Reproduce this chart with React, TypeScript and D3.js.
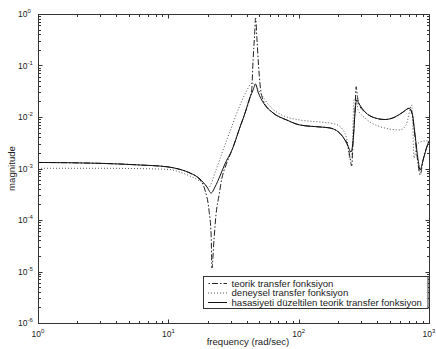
import React from "react";
import * as d3 from "d3";

// ---- Data (frequency in rad/sec, magnitude) ----
const freqTeorik = [1, 2.99, 6.07, 9.77, 12.3, 14.7, 17.5, 19.1, 20.5, 21.3, 21.6, 22.4, 23.2, 24.5, 25.8, 27.7, 30.8, 35.5, 38.8, 42.4, 43.6, 44.7, 45.9, 46.7, 47.9, 49.2, 50.6, 53.3, 63.6, 81.0, 102.5, 146, 174, 219, 239, 248, 255, 262, 271, 276, 283, 296, 323, 386, 460, 549, 633, 704, 742, 782, 825, 855, 901, 967, 1000];
const magTeorik = [1.31e-3, 1.26e-3, 1.17e-3, 1.08e-3, 9.6e-4, 8.1e-4, 6.0e-4, 3.83e-4, 1.56e-4, 5.12e-5, 1.17e-5, 4.09e-5, 1.25e-4, 3.05e-4, 6.54e-4, 1.17e-3, 2.29e-3, 6.4e-3, 1.2e-2, 2.45e-2, 3.34e-2, 0.128, 0.391, 0.836, 0.313, 0.102, 4.18e-2, 2.14e-2, 1.2e-2, 8.75e-3, 6.99e-3, 6.4e-3, 6.12e-3, 4.09e-3, 2.73e-3, 1.6e-3, 1.12e-3, 3.57e-3, 1.5e-2, 3.88e-2, 2.4e-2, 1.6e-2, 1.25e-2, 9.57e-3, 8.94e-3, 1.0e-2, 1.25e-2, 1.48e-2, 1.14e-2, 4.09e-3, 1.2e-3, 7.48e-4, 1.46e-3, 2.73e-3, 3.42e-3];

const freqDeneysel = [1, 2.99, 9.77, 13.4, 16.9, 19.1, 20.2, 23.2, 26.3, 29.8, 35.5, 39.5, 43.7, 46.3, 50.6, 60.3, 72.0, 102.5, 146, 190, 219, 235, 248, 257, 266, 276, 286, 323, 421, 600, 667, 738, 769, 810, 933, 1000];
const magDeneysel = [1.01e-3, 1.01e-3, 9.65e-4, 7.82e-4, 5.98e-4, 4.9e-4, 4.2e-4, 9.35e-4, 2.29e-3, 5.34e-3, 1.71e-2, 3.06e-2, 4.5e-2, 4.18e-2, 3.0e-2, 1.6e-2, 1.14e-2, 8.75e-3, 8.0e-3, 7.31e-3, 5.6e-3, 3.57e-3, 1.46e-3, 2.29e-3, 2.14e-2, 2.34e-2, 1.37e-2, 9.57e-3, 6.49e-3, 5.6e-3, 6.99e-3, 1.71e-2, 1.6e-3, 2.99e-3, 3.42e-3, 3.42e-3];

const freqDuzeltilen = [1, 2.99, 6.07, 9.77, 12.3, 14.7, 17.5, 19.8, 21.3, 22.8, 24.9, 27.2, 30.8, 35.5, 38.8, 42.4, 44.7, 46.7, 48.8, 54.0, 63.6, 81.0, 102.5, 146, 174, 219, 239, 252, 262, 271, 278, 291, 323, 386, 460, 549, 633, 704, 742, 782, 825, 855, 901, 967, 1000];
const magDuzeltilen = [1.31e-3, 1.26e-3, 1.17e-3, 1.08e-3, 9.6e-4, 8.18e-4, 6.25e-4, 4.37e-4, 3.34e-4, 4.37e-4, 7.15e-4, 1.23e-3, 2.29e-3, 6.4e-3, 1.2e-2, 2.45e-2, 3.34e-2, 4.37e-2, 3.06e-2, 1.83e-2, 1.2e-2, 8.75e-3, 6.99e-3, 6.4e-3, 6.12e-3, 4.09e-3, 2.73e-3, 2.09e-3, 3.57e-3, 1.25e-2, 2.14e-2, 1.79e-2, 1.25e-2, 9.57e-3, 8.94e-3, 1.0e-2, 1.25e-2, 1.48e-2, 1.2e-2, 4.47e-3, 1.46e-3, 9.35e-4, 1.46e-3, 2.73e-3, 3.42e-3];

const xTickExps = [0, 1, 2, 3];
const yTickExps = [0, -1, -2, -3, -4, -5, -6];
const legendLabels = [
  "teorik transfer fonksiyon",
  "deneysel transfer fonksiyon",
  "hasasiyeti düzeltilen teorik transfer fonksiyon",
];
const xLabel = "frequency (rad/sec)";
const yLabel = "magnitude";

const W = 436;
const H = 349;
const L = 38;
const R = 429;
const T = 14;
const B = 323;
const FONT = "'Liberation Sans', Arial, Helvetica, sans-serif";
const AX = "#333";

export default function App() {
  const x = d3.scaleLog().domain([1, 1000]).range([L, R]);
  const y = d3.scaleLog().domain([1e-6, 1]).range([B, T]);

  const mk = (fs: number[], ms: number[]) =>
    d3
      .line<number>()
      .x((_, i) => x(fs[i]))
      .y((_, i) => y(ms[i]))
      .curve(d3.curveMonotoneX)(fs) || "";

  const pTeorik = mk(freqTeorik, magTeorik);
  const pDeney = mk(freqDeneysel, magDeneysel);
  const pDuz = mk(freqDuzeltilen, magDuzeltilen);

  const xTicks: { v: number; major: boolean }[] = [];
  for (let d = 0; d < 3; d++)
    for (let k = 1; k <= 9; k++) xTicks.push({ v: k * Math.pow(10, d), major: k === 1 });
  xTicks.push({ v: 1000, major: true });
  const yTicks: { v: number; major: boolean }[] = [];
  for (let d = -6; d < 0; d++)
    for (let k = 1; k <= 9; k++) yTicks.push({ v: k * Math.pow(10, d), major: k === 1 });
  yTicks.push({ v: 1, major: true });

  const MAJ = 4;
  const MIN = 2.5;

  const legX = 203.5;
  const legY = 276.5;
  const legW = 224.5;
  const legH = 32;
  const rows = [283.5, 293, 302.5];

  return (
    <svg
      width={W}
      height={H}
      style={{ position: "absolute", left: 0, top: 0, background: "#fff" }}
      fontFamily={FONT}
    >
      <rect x={0} y={0} width={W} height={H} fill="#fff" />
      <defs>
        <clipPath id="plotclip">
          <rect x={L} y={T - 1} width={R - L} height={B - T + 1} />
        </clipPath>
      </defs>

      <g clipPath="url(#plotclip)" fill="none">
        <path d={pDeney} stroke="#555" strokeWidth={1} strokeDasharray="1,2" />
        <path d={pTeorik} stroke="#222" strokeWidth={1} strokeDasharray="6,2,1.5,2" />
        <path d={pDuz} stroke="#111" strokeWidth={1} />
      </g>

      {/* axes box */}
      <rect x={L + 0.5} y={T + 0.5} width={R - L} height={B - T} fill="none" stroke={AX} strokeWidth={1} />

      {/* ticks */}
      <g stroke={AX} strokeWidth={1}>
        {xTicks.map((t, i) => {
          const px = Math.round(x(t.v)) + 0.5;
          const len = t.major ? MAJ : MIN;
          return (
            <g key={"xt" + i}>
              <line x1={px} x2={px} y1={B + 0.5} y2={B + 0.5 - len} />
              <line x1={px} x2={px} y1={T + 0.5} y2={T + 0.5 + len} />
            </g>
          );
        })}
        {yTicks.map((t, i) => {
          const py = Math.round(y(t.v)) + 0.5;
          const len = t.major ? MAJ : MIN;
          return (
            <g key={"yt" + i}>
              <line x1={L + 0.5} x2={L + 0.5 + len} y1={py} y2={py} />
              <line x1={R + 0.5} x2={R + 0.5 - len} y1={py} y2={py} />
            </g>
          );
        })}
      </g>

      {/* x tick labels */}
      <g fill="#222" fontSize={8.5}>
        {xTickExps.map((e) => (
          <text key={"xl" + e} x={x(Math.pow(10, e))} y={336.5} textAnchor="middle">
            10
            <tspan fontSize={6} dy={-4}>
              {String(e)}
            </tspan>
          </text>
        ))}
      </g>

      {/* y tick labels */}
      <g fill="#222" fontSize={8.5}>
        {yTickExps.map((e) => (
          <text key={"yl" + e} x={18} y={y(Math.pow(10, e)) + 3} textAnchor="start">
            10
            <tspan fontSize={6} dy={-4}>
              {e === 0 ? "0" : "-" + String(-e)}
            </tspan>
          </text>
        ))}
      </g>

      {/* axis labels */}
      <text x={248} y={345} textAnchor="middle" fontSize={9.6} fill="#222">
        {xLabel}
      </text>
      <text
        transform={`translate(15,${(T + B) / 2}) rotate(-90)`}
        textAnchor="middle"
        fontSize={9.6}
        fill="#222"
      >
        {yLabel}
      </text>

      {/* legend */}
      <rect x={legX} y={legY} width={legW} height={legH} fill="#fff" stroke={AX} strokeWidth={1} />
      <line x1={208} x2={227} y1={rows[0]} y2={rows[0]} stroke="#222" strokeDasharray="6,2,1.5,2" strokeDashoffset={-4} />
      <line x1={208} x2={227} y1={rows[1]} y2={rows[1]} stroke="#555" strokeDasharray="1,2" />
      <line x1={208} x2={227} y1={rows[2]} y2={rows[2]} stroke="#111" />
      {legendLabels.map((lab, i) => (
        <text key={"lg" + i} x={231.5} y={rows[i] + 3.3} fontSize={9.6} fill="#222">
          {lab}
        </text>
      ))}
    </svg>
  );
}
